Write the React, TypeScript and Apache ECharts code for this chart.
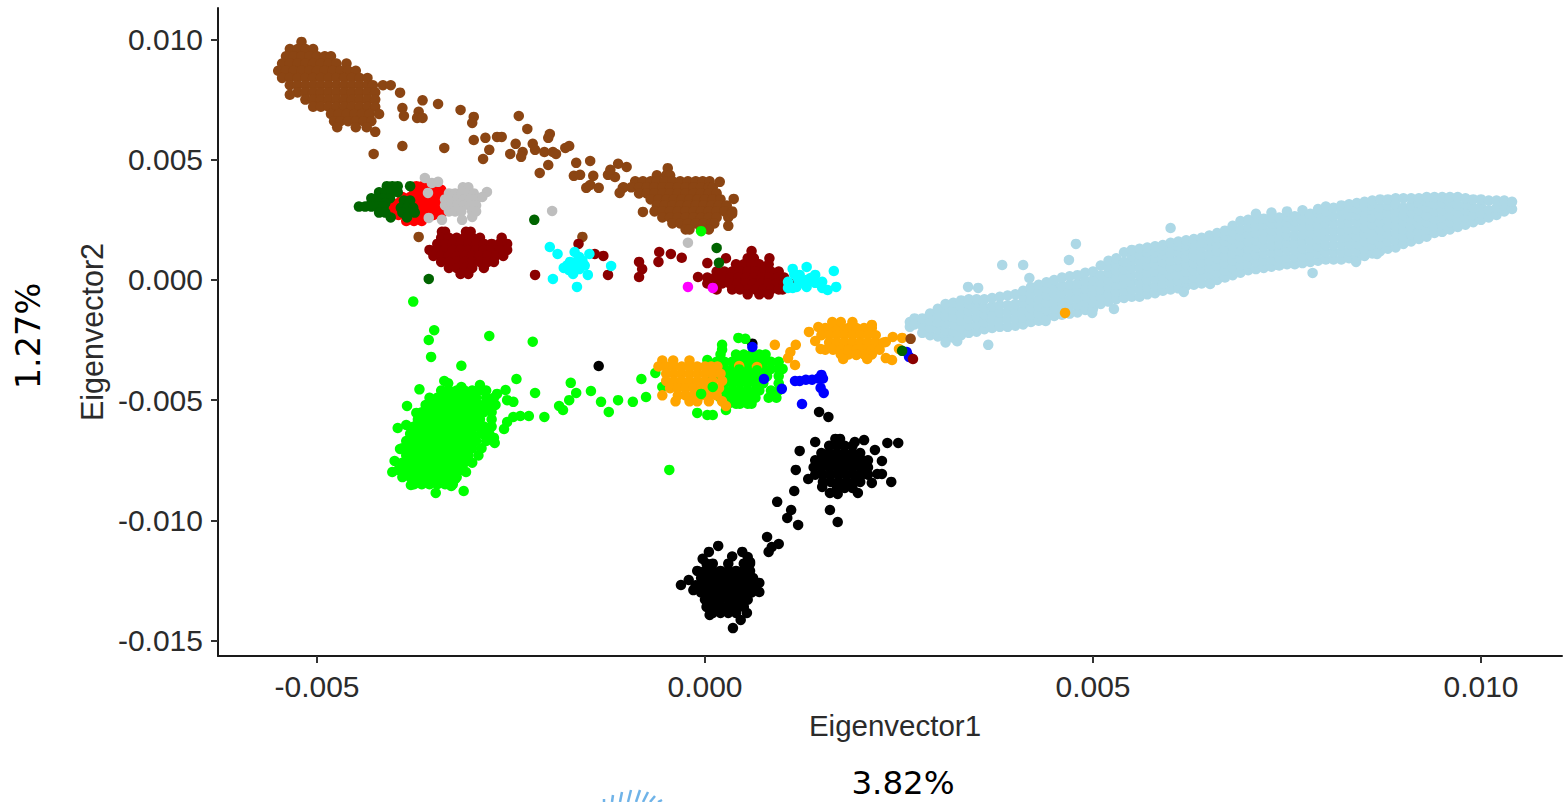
import React, { useEffect, useRef } from "react";
import * as echarts from "echarts";

// All values are in thousandths of an eigenvector unit.
// "rows" lists are [y, x, x, x...]; "cols" lists are [x, y, y, y...]; "loose" lists are [x, y].
const xTicks = [-0.005, 0, 0.005, 0.01];
const yTicks = [-0.015, -0.01, -0.005, 0, 0.005, 0.01];

const lightBlueCols = [
  [2.64,-1.75,-1.95],[2.7,-1.6,-1.85],
  [2.8,-2.2,-1.9,-1.6],[2.9,-2.3,-2.0,-1.7,-1.4],[3.0,-2.35,-2.05,-1.75,-1.45,-1.2],
  [3.1,-2.4,-2.1,-1.8,-1.5,-1.2,-1.0],[3.2,-2.4,-2.15,-1.85,-1.55,-1.25,-0.95],[3.3,-2.3,-2.0,-1.7,-1.4,-1.1,-0.85],
  [3.4,-2.2,-1.9,-1.6,-1.3,-1.0,-0.8],[3.5,-2.15,-1.85,-1.55,-1.25,-0.95,-0.8],[3.6,-2.05,-1.75,-1.45,-1.15,-0.8],
  [3.7,-2.0,-1.7,-1.4,-1.1,-0.75],[3.8,-1.95,-1.65,-1.35,-1.05,-0.7],[3.9,-1.95,-1.65,-1.35,-1.05,-0.65],
  [4.0,-1.9,-1.6,-1.3,-1.0,-0.6],[4.1,-1.85,-1.55,-1.25,-0.95,-0.7,-0.45],[4.2,-1.75,-1.45,-1.15,-0.85,-0.55,-0.3],
  [4.3,-1.7,-1.4,-1.1,-0.8,-0.5,-0.2],[4.4,-1.55,-1.25,-0.95,-0.65,-0.35,-0.1],[4.5,-1.5,-1.2,-0.9,-0.6,-0.3,0.0],
  [4.6,-1.45,-1.15,-0.85,-0.55,-0.25,0.1],[4.7,-1.4,-1.1,-0.8,-0.5,-0.2,0.15],[4.8,-1.35,-1.05,-0.75,-0.45,-0.15,0.2],
  [4.9,-1.25,-0.95,-0.65,-0.35,-0.05,0.3],[5.0,-1.2,-0.9,-0.6,-0.3,0.0,0.35],[5.1,-1.0,-0.7,-0.4,-0.1,0.2,0.6],
  [5.2,-0.9,-0.6,-0.3,0.0,0.3,0.55,0.8],[5.3,-0.8,-0.5,-0.2,0.1,0.4,0.65,0.9],[5.4,-0.75,-0.45,-0.15,0.15,0.45,0.75,1.15],
  [5.5,-0.7,-0.4,-0.1,0.2,0.5,0.8,1.0,1.25],[5.6,-0.7,-0.4,-0.1,0.2,0.5,0.8,1.05,1.3],[5.7,-0.6,-0.3,0.0,0.3,0.6,0.9,1.15,1.35],
  [5.8,-0.55,-0.25,0.05,0.35,0.65,0.95,1.15,1.4],[5.9,-0.45,-0.15,0.15,0.45,0.75,1.05,1.25,1.45],[6.0,-0.4,-0.1,0.2,0.5,0.8,1.1,1.35,1.55,2.16],
  [6.1,-0.35,-0.05,0.25,0.55,0.85,1.15,1.4,1.6],[6.2,-0.25,0.05,0.35,0.65,0.95,1.25,1.45,1.65],[6.3,-0.2,0.1,0.4,0.7,1.0,1.3,1.5,1.7],
  [6.4,-0.15,0.15,0.45,0.75,1.05,1.35,1.55,1.75],[6.5,-0.1,0.2,0.5,0.8,1.1,1.4,1.65,1.85],[6.6,0.0,0.3,0.6,0.9,1.2,1.5,1.75,1.95],
  [6.7,0.1,0.4,0.7,1.0,1.3,1.6,1.85,2.05],[6.8,0.2,0.5,0.8,1.1,1.4,1.7,2.0,2.25],[6.9,0.3,0.6,0.9,1.2,1.5,1.8,2.1,2.45],
  [7.0,0.4,0.7,1.0,1.3,1.6,1.9,2.2,2.5],[7.1,0.45,0.75,1.05,1.35,1.65,1.95,2.25,2.55,2.75],[7.2,0.5,0.8,1.1,1.4,1.7,2.0,2.3,2.55],
  [7.3,0.55,0.85,1.15,1.45,1.75,2.05,2.35,2.6,2.8],[7.4,0.6,0.9,1.2,1.5,1.8,2.1,2.35,2.6],[7.5,0.65,0.95,1.25,1.55,1.85,2.15,2.4,2.65,2.85],
  [7.6,0.65,0.95,1.25,1.55,1.85,2.15,2.45,2.65],[7.7,0.7,1.0,1.3,1.6,1.9,2.2,2.5,2.7,2.9],[7.8,0.75,1.05,1.35,1.65,1.95,2.25,2.5,2.75],
  [7.9,0.8,1.1,1.4,1.7,2.0,2.3,2.55,2.8,2.95],[8.0,0.85,1.15,1.45,1.75,2.05,2.35,2.6,2.85,3.05],[8.1,0.85,1.15,1.45,1.75,2.05,2.35,2.65,3.0],
  [8.2,0.85,1.15,1.45,1.75,2.05,2.35,2.65,2.9,3.1],[8.3,0.9,1.2,1.5,1.8,2.1,2.4,2.7,3.0,3.15],[8.4,0.9,1.2,1.5,1.8,2.1,2.4,2.7,2.95,3.2],
  [8.5,1.0,1.3,1.6,1.9,2.2,2.5,2.8,3.05,3.25],[8.6,1.1,1.4,1.7,2.0,2.3,2.6,2.9,3.1,3.3],[8.7,1.2,1.5,1.8,2.1,2.4,2.7,3.0,3.35],
  [8.8,1.3,1.6,1.9,2.2,2.5,2.8,3.1,3.35],[8.9,1.35,1.65,1.95,2.25,2.55,2.85,3.15,3.4],[9.0,1.5,1.8,2.1,2.4,2.7,3.0,3.4],
  [9.1,1.6,1.9,2.2,2.5,2.8,3.1,3.4],[9.2,1.7,2.0,2.3,2.6,2.9,3.2,3.4],[9.3,1.8,2.1,2.4,2.7,3.0,3.25,3.45],
  [9.4,1.95,2.25,2.55,2.85,3.15,3.45],[9.5,2.0,2.3,2.6,2.9,3.2,3.45],[9.6,2.1,2.4,2.7,3.0,3.25,3.45],
  [9.7,2.2,2.5,2.8,3.1,3.45],[9.8,2.3,2.6,2.9,3.15,3.4],[9.9,2.4,2.7,3.0,3.35],
  [10.0,2.5,2.75,3.05,3.35],[10.1,2.6,2.9,3.3],[10.2,2.7,3.0,3.3],[10.3,2.85,3.1,3.3],[10.4,2.95,3.25],
];
const lightBlueLoose = [[4.78,1.5],[4.69,0.83],[3.83,0.62],[4.1,0.62],[4.18,0.08],[3.39,-0.29],[3.52,-0.33],[3.65,-2.7],[4.99,-1.37],[5.27,-1.21],[4.39,-1.71],[7.83,0.29],[8.39,0.75],[8.66,1.08],[6.51,-0.17],[6.17,-0.5],[3.1,-2.6],[3.25,-2.55]];

const blackUpperRows = [
  [-6.9,1.6,1.7,1.8,1.9],[-7.2,1.5,1.6,1.7,1.8,1.9,2.0],[-7.5,1.42,1.52,1.62,1.72,1.82,1.92,2.02,2.1],
  [-7.8,1.4,1.5,1.6,1.7,1.8,1.9,2.0,2.1],[-8.1,1.42,1.52,1.62,1.72,1.82,1.92,2.02,2.1],[-8.4,1.52,1.62,1.72,1.82,1.92,2.0],[-8.65,1.7,1.8,1.9],
];
const blackLowerRows = [
  [-11.8,0.02,0.1,0.3,0.5,0.58],[-12.1,0.0,0.1,0.2,0.3,0.4,0.5,0.58],[-12.4,-0.05,0.05,0.15,0.25,0.35,0.45,0.55,0.62],
  [-12.7,-0.12,-0.02,0.08,0.18,0.28,0.38,0.48,0.58,0.66],[-13.0,-0.05,0.05,0.15,0.25,0.35,0.45,0.55,0.6],
  [-13.3,0.0,0.1,0.2,0.3,0.4,0.5,0.55],[-13.6,0.02,0.12,0.22,0.32,0.42,0.5],[-13.85,0.1,0.2,0.3,0.4],
];
const blackLoose = [[1.47,-5.49],[1.59,-5.7],[1.42,-6.74],[1.22,-7.11],[1.17,-7.9],[1.33,-8.28],[1.15,-8.78],[0.93,-9.23],[1.11,-9.57],[1.06,-9.9],[1.2,-10.19],[1.61,-9.57],[1.71,-10.07],[0.8,-10.69],[0.95,-10.98],[0.86,-11.11],[0.82,-11.31],[2.49,-6.78],[2.35,-6.78],[2.4,-8.4],[2.28,-8.07],[2.22,-8.07],[2.28,-7.53],[2.19,-7.07],[2.05,-6.66],[1.93,-6.74],[1.74,-6.61],[1.68,-6.61],[1.97,-8.86],[1.71,-8.9],[1.61,-8.86],[1.51,-8.61],[2.15,-8.44],[0.17,-11.06],[0.05,-11.31],[-0.03,-11.6],[0.48,-11.31],[0.55,-11.52],[0.58,-11.73],[0.35,-11.5],[-0.31,-12.69],[-0.21,-12.48],[-0.15,-12.9],[-0.1,-12.1],[0.7,-12.6],[0.7,-12.98],[0.36,-14.48],[0.46,-14.14],[0.54,-13.85],[0.06,-13.93],[-1.37,-3.58],[0.61,-2.65]];

const greenMainRows = [
  [-4.6,-3.4,-3.3,-3.2,-3.1,-3.0,-2.9,-2.82],
  [-4.9,-3.55,-3.45,-3.35,-3.25,-3.15,-3.05,-2.95,-2.82,-2.72],
  [-5.2,-3.6,-3.5,-3.4,-3.3,-3.2,-3.1,-3.0,-2.9,-2.8,-2.7],
  [-5.5,-3.65,-3.55,-3.45,-3.35,-3.25,-3.15,-3.05,-2.95,-2.85,-2.75],
  [-5.8,-3.7,-3.6,-3.5,-3.4,-3.3,-3.2,-3.1,-3.0,-2.9,-2.75],
  [-6.1,-3.75,-3.65,-3.55,-3.45,-3.35,-3.25,-3.15,-3.05,-2.95,-2.85,-2.75],
  [-6.4,-3.8,-3.7,-3.6,-3.5,-3.4,-3.3,-3.2,-3.1,-3.0,-2.88,-2.78],
  [-6.7,-3.85,-3.75,-3.65,-3.55,-3.45,-3.35,-3.25,-3.15,-3.05,-2.95,-2.82],
  [-7.0,-3.9,-3.8,-3.7,-3.6,-3.5,-3.4,-3.3,-3.2,-3.1,-3.0,-2.88],
  [-7.3,-3.85,-3.75,-3.65,-3.55,-3.45,-3.35,-3.25,-3.15,-3.05,-2.92],
  [-7.6,-3.9,-3.8,-3.7,-3.6,-3.5,-3.4,-3.3,-3.2,-3.1,-3.0],
  [-7.9,-3.95,-3.85,-3.75,-3.65,-3.55,-3.45,-3.35,-3.25,-3.15],
  [-8.2,-3.9,-3.8,-3.7,-3.6,-3.5,-3.4,-3.3,-3.2],
  [-8.5,-3.75,-3.65,-3.55,-3.45,-3.35,-3.25],
];
const greenMidRows = [
  [-2.9,0.22],[-3.1,0.2,0.4,0.5,0.6,0.7,0.78],[-3.4,0.15,0.25,0.35,0.45,0.55,0.65,0.75,0.85,0.95],
  [-3.7,0.05,0.15,0.25,0.35,0.45,0.55,0.65,0.75,0.85,0.95,1.0],[-4.0,0.1,0.2,0.3,0.4,0.5,0.6,0.7,0.8,0.95],
  [-4.3,0.25,0.35,0.45,0.55,0.65,0.75,0.95],[-4.6,0.25,0.35,0.45,0.55,0.65,0.7,0.85,0.95],
  [-4.9,0.2,0.3,0.4,0.5,0.6,0.65,0.82,0.92],[-5.15,0.3,0.4,0.45,0.55,0.6],
];
const greenLoose = [[-3.76,-0.9],[-3.49,-2.09],[-3.56,-2.5],[-3.53,-3.2],[-2.78,-2.33],[-2.22,-2.57],[-3.14,-3.57],[-3.36,-4.2],[-3.31,-4.3],[-2.43,-4.12],[-2.9,-4.37],[-3.68,-4.55],[-3.14,-4.45],[-2.57,-4.58],[-2.68,-4.74],[-2.19,-4.7],[-2.47,-5.07],[-2.55,-5.0],[-3.84,-5.24],[-3.72,-5.53],[-2.27,-5.66],[-2.38,-5.66],[-2.47,-5.7],[-2.55,-5.91],[-2.59,-6.2],[-2.07,-5.7],[-3.96,-6.16],[-3.85,-6.03],[-2.72,-6.57],[-2.71,-6.78],[-4.0,-7.53],[-4.03,-7.99],[-3.93,-7.03],[-3.08,-7.99],[-3.11,-8.78],[-3.47,-8.86],[-3.27,-8.57],[-3.22,-8.28],[-3.14,-7.61],[-3.79,-8.53],[-1.73,-4.28],[-1.66,-4.7],[-1.47,-4.62],[-1.75,-5.0],[-1.88,-5.24],[-1.83,-5.41],[-1.34,-5.07],[-1.24,-5.49],[-1.12,-5.0],[-0.93,-5.07],[-0.76,-4.87],[-0.82,-4.12],[-0.64,-3.87],[-0.46,-7.9],[-0.1,-5.53],[0.03,-5.62],[0.1,-5.62],[0.27,-5.41],[0.03,-3.33],[-0.55,-4.45],[0.43,-2.41],[0.52,-2.45],[0.22,-2.7]];
const greenOver = [[-0.05,-4.74],[0.1,-4.45],[-0.05,2.03],[0.44,-3.72],[0.67,-3.76]];

const orangeRows = [
  [-3.35,-0.55,-0.41,-0.2],[-3.6,-0.6,-0.5,-0.4,-0.3,-0.2,-0.1,0.0,0.08,0.16],[-3.9,-0.5,-0.4,-0.3,-0.2,-0.1,0.0,0.1,0.2],
  [-4.2,-0.5,-0.4,-0.3,-0.2,-0.1,0.0,0.1,0.22],[-4.5,-0.45,-0.35,-0.25,-0.15,-0.05,0.05,0.18],[-4.8,-0.55,-0.35,-0.25,-0.15,-0.05,0.05,0.15],
  [-5.05,-0.38,-0.2,-0.1,0.05,0.22],
  [-2.0,1.55,1.65,1.75,1.85,1.95,2.05,2.15],[-2.3,1.5,1.6,1.7,1.8,1.9,2.0,2.1,2.2],[-2.6,1.6,1.7,1.8,1.9,2.0,2.1,2.2,2.3],
  [-2.9,1.55,1.65,1.75,1.85,1.95,2.05,2.15,2.25],[-3.1,1.75,1.85,1.95,2.05,2.15],
];
const orangeLoose = [[0.27,-5.24],[0.44,-3.58],[0.67,-3.62],[0.9,-2.7],[1.17,-2.7],[1.1,-3.0],[1.07,-3.25],[1.16,-3.54],[1.34,-2.16],[1.46,-1.96],[1.42,-2.54],[1.49,-2.87],[1.64,-1.75],[1.75,-1.75],[1.9,-1.75],[2.15,-1.87],[2.33,-2.58],[2.42,-2.37],[2.54,-2.41],[2.41,-3.33],[2.33,-3.25],[2.5,-2.87],[1.78,-3.29],[1.95,-3.12],[2.09,-3.29],[4.64,-1.37]];

const blueLoose = [[0.61,-2.79],[0.76,-4.12],[0.99,-4.53],[1.25,-5.16],[1.16,-4.2],[1.22,-4.2],[1.3,-4.15],[1.38,-4.15],[1.46,-4.1],[1.52,-4.1],[1.5,-3.95],[1.49,-4.49],[1.53,-4.7],[2.6,-3.0],[2.63,-3.2]];

const brownTopRows = [
  [9.9,-5.2],[9.6,-5.35,-5.25,-5.15,-5.05],[9.3,-5.4,-5.3,-5.2,-5.1,-5.0,-4.9,-4.82],
  [9.0,-5.45,-5.35,-5.25,-5.15,-5.05,-4.95,-4.85,-4.75,-4.62],
  [8.7,-5.5,-5.4,-5.3,-5.2,-5.1,-5.0,-4.9,-4.8,-4.7,-4.6,-4.5],
  [8.4,-5.45,-5.35,-5.25,-5.15,-5.05,-4.95,-4.85,-4.75,-4.65,-4.55,-4.45,-4.35],
  [8.1,-5.35,-5.25,-5.15,-5.05,-4.95,-4.85,-4.75,-4.65,-4.55,-4.45,-4.35,-4.28,-4.15,-4.05],
  [7.8,-5.25,-5.15,-5.05,-4.95,-4.85,-4.75,-4.65,-4.55,-4.45,-4.35,-4.25],
  [7.7,-5.35],[7.5,-5.15,-5.05,-4.95,-4.85,-4.75,-4.65,-4.55,-4.45,-4.35,-4.25],
  [7.2,-5.05,-4.95,-4.85,-4.75,-4.65,-4.55,-4.45,-4.35,-4.25],[6.9,-4.82,-4.72,-4.62,-4.52,-4.42,-4.32,-4.2],
  [6.6,-4.78,-4.7,-4.6,-4.5,-4.4,-4.3],[6.35,-4.74,-4.5,-4.36],[6.16,-4.25],
];
const brownMidRows = [
  [4.65,-0.48],[4.35,-0.62,-0.5,-0.45],
  [4.1,-0.9,-0.8,-0.7,-0.62,-0.52,-0.42,-0.32,-0.22,-0.12,-0.03,0.06],
  [3.85,-1.05,-0.95,-0.85,-0.75,-0.65,-0.55,-0.45,-0.35,-0.25,-0.15,-0.05,0.05,0.1],
  [3.6,-0.85,-0.75,-0.65,-0.55,-0.45,-0.35,-0.25,-0.15,-0.05,0.05,0.15],
  [3.35,-0.7,-0.6,-0.5,-0.4,-0.3,-0.2,-0.1,0.0,0.1,0.2],
  [3.1,-0.62,-0.52,-0.42,-0.32,-0.22,-0.12,-0.02,0.08,0.18,0.28],
  [2.85,-0.65,-0.55,-0.45,-0.35,-0.25,-0.15,-0.05,0.05,0.15,0.25,0.35],
  [2.6,-0.55,-0.45,-0.35,-0.25,-0.15,-0.05,0.05,0.15,0.3],
  [2.35,-0.42,-0.32,-0.22,-0.12,-0.02,0.08,0.12],[2.1,-0.25,-0.2,-0.05,0.05],
];
const brownLoose = [[-3.93,7.79],[-3.64,7.47],[-3.44,7.32],[-3.9,7.15],[-3.88,6.82],[-3.69,6.99],[-3.71,6.74],[-3.64,6.74],[-3.15,7.07],[-2.98,6.78],[-3.0,6.53],[-2.4,6.82],[-2.29,6.28],[-2.0,6.07],[-2.02,5.91],[-2.98,5.82],[-2.83,5.91],[-2.68,5.95],[-2.62,5.95],[-2.44,5.66],[-2.22,5.66],[-2.19,5.41],[-2.78,5.41],[-2.51,5.24],[-2.35,5.32],[-2.37,5.12],[-2.86,5.03],[-2.07,5.32],[-1.96,5.32],[-1.92,5.24],[-1.8,5.49],[-1.75,5.57],[-2.02,4.78],[-2.13,4.45],[-1.66,4.87],[-1.48,4.95],[-1.69,4.33],[-1.61,4.37],[-1.44,4.33],[-1.53,3.83],[-1.48,3.95],[-1.37,3.83],[-1.25,4.37],[-1.16,4.28],[-1.22,4.58],[-1.12,4.83],[-1.01,4.7],[-3.36,5.49],[-3.9,5.57],[-4.27,5.24],[-3.69,1.79],[-1.58,1.79],[0.19,4.08],[0.37,3.37],[0.3,2.25],[0.35,2.75],[-1.06,3.83],[-1.1,3.62],[-0.8,2.83],[2.65,-2.45]];

const darkRedRows = [
  [2.0,-3.39,-3.35,-3.08,-3.02],[1.75,-3.4,-3.3,-3.2,-3.1,-3.0,-2.9,-2.62],
  [1.5,-3.45,-3.35,-3.25,-3.15,-3.05,-2.95,-2.85,-2.75,-2.65,-2.55],
  [1.25,-3.55,-3.45,-3.35,-3.25,-3.15,-3.05,-2.95,-2.85,-2.75,-2.65,-2.55],
  [1.0,-3.5,-3.4,-3.3,-3.2,-3.1,-3.0,-2.9,-2.8,-2.7,-2.6],
  [0.75,-3.4,-3.3,-3.2,-3.1,-3.0,-2.9,-2.8,-2.72],[0.5,-3.3,-3.2,-3.1,-3.0,-2.85],[0.25,-3.15,-3.05],
  [1.2,0.6],[0.9,0.27,0.55,0.63,0.83],[0.65,0.4,0.5,0.6,0.7,0.82],
  [0.35,0.15,0.25,0.35,0.45,0.55,0.65,0.75,0.85,0.95],[0.1,0.03,0.13,0.23,0.33,0.43,0.53,0.63,0.73,0.83,0.93,1.02],
  [-0.15,0.03,0.12,0.22,0.32,0.42,0.52,0.62,0.72,0.82,0.92,1.02,1.1],[-0.4,0.15,0.35,0.45,0.55,0.65,0.75,0.85,0.95,1.0],
  [-0.6,0.55,0.7,0.82],
];
const darkRedLoose = [[0.03,0.7],[-0.09,0.12],[-0.85,0.75],[-0.81,0.45],[-0.85,0.12],[-0.6,0.75],[-0.59,1.16],[-0.44,1.08],[-0.3,0.92],[-2.19,0.21],[-1.25,0.21],[-1.63,1.5],[-1.42,1.08],[-1.31,1.0],[2.68,-3.29]];

const redRows = [
  [3.9,-3.72,-3.64],[3.75,-3.75,-3.65,-3.57,-3.45,-3.4],[3.45,-3.9,-3.8,-3.7,-3.6,-3.5,-3.42,-3.35],
  [3.2,-4.05,-3.95,-3.85,-3.75,-3.65,-3.55,-3.45,-3.35,-3.28],[2.95,-4.05,-3.95,-3.85,-3.75,-3.65,-3.55,-3.45,-3.35,-3.3],
  [2.7,-3.95,-3.8,-3.7,-3.6,-3.5,-3.4],[2.45,-3.85,-3.75,-3.65],
];
const darkGreenRows = [
  [3.9,-4.1,-4.03,-3.96,-3.8],[3.65,-4.2,-4.12,-4.04,-3.96],[3.4,-4.3,-4.22,-4.14,-4.06],
  [3.2,-4.3,-4.2,-4.12],[3.05,-4.46,-4.38,-4.3,-4.22,-4.14],[3.3,-3.88,-3.8],[3.0,-3.92,-3.84,-3.76],
  [2.8,-4.2,-4.12,-3.9,-3.82,-3.74],[2.6,-4.05,-3.84],
];
const darkGreenLoose = [[-2.2,2.5],[0.15,1.33],[0.18,0.71],[-3.56,0.04],[2.54,-2.95]];

const grayRows = [
  [3.85,-3.12,-3.05],[3.6,-3.3,-3.22,-3.14,-3.06,-2.98],[3.35,-3.35,-3.27,-3.19,-3.11,-3.03,-2.95],
  [3.1,-3.35,-3.27,-3.19,-3.11,-3.03,-2.95],[2.85,-3.3,-3.22,-3.14,-3.0,-2.95],
];
const grayLoose = [[-3.61,4.24],[-3.52,4.03],[-3.44,4.08],[-3.57,3.62],[-2.81,3.66],[-2.87,3.45],[-3.56,2.58],[-3.39,2.5],[-3.13,2.5],[-3.0,2.62],[-1.97,2.87],[-0.22,1.55]];

const cyanLoose = [[-2.0,1.37],[-1.9,1.08],[-1.68,1.16],[-1.49,1.08],[-1.21,0.58],[-1.51,0.21],[-1.96,0.04],[-1.65,-0.29],[-1.82,0.5],[-1.74,0.75],[-1.66,0.75],[-1.58,0.8],[-1.75,0.4],[-1.68,0.4],[-1.62,0.45],[-1.7,0.25],[-1.55,0.6],[-1.78,0.6],[-1.62,0.95],[1.66,0.37],[1.31,0.54],[1.13,0.46],[1.69,-0.29],[1.58,-0.42],[1.51,-0.33],[1.51,-0.08],[1.42,0.21],[1.42,-0.12],[1.31,0.0],[1.31,-0.29],[1.22,0.21],[1.22,-0.12],[1.18,-0.29],[1.07,-0.33],[1.07,-0.08],[1.13,-0.33],[1.36,0.08],[1.2,0.04],[1.15,0.25]];
const magentaLoose = [[-0.22,-0.29],[0.1,-0.33]];

const rayLines = [[604,799,604,802],[613,795,612,802],[622,792,620,802],[631,790,628,802],[640,790,636,802],[648,792,643,802],[655,796,650,802],[662,800,658,802]];

const fromRows = (rows: number[][]) => rows.flatMap(([y, ...xs]) => xs.map((x) => [x, y]));
const fromCols = (cols: number[][]) => cols.flatMap(([x, ...ys]) => ys.map((y) => [x, y]));
const scaled = (pts: number[][]) => pts.map(([x, y]) => [x / 1000, y / 1000]);

const layers: [string, number[][]][] = [
  ["#ADD8E6", [...fromCols(lightBlueCols), ...lightBlueLoose]],
  ["#000000", [...fromRows(blackUpperRows), ...fromRows(blackLowerRows), ...blackLoose]],
  ["#00FF00", [...fromRows(greenMainRows), ...fromRows(greenMidRows), ...greenLoose]],
  ["#FFA500", [...fromRows(orangeRows), ...orangeLoose]],
  ["#0000FF", blueLoose],
  ["#8B4513", [...fromRows(brownTopRows), ...fromRows(brownMidRows), ...brownLoose]],
  ["#8B0000", [...fromRows(darkRedRows), ...darkRedLoose]],
  ["#FF0000", fromRows(redRows)],
  ["#006400", [...fromRows(darkGreenRows), ...darkGreenLoose]],
  ["#BEBEBE", [...fromRows(grayRows), ...grayLoose]],
  ["#00FFFF", cyanLoose],
  ["#FF00FF", magentaLoose],
  ["#00FF00", greenOver],
];

export default function App() {
  const ref = useRef<HTMLDivElement>(null);
  useEffect(() => {
    const chart = echarts.init(ref.current!, undefined, { renderer: "svg" });
    const tickText = { fontFamily: "Liberation Sans", fontSize: 30, color: "#2b2b2b" };
    const axisLine = { show: true, onZero: false, lineStyle: { color: "#1a1a1a", width: 2 } };
    const axisTick = { show: true, length: 7, lineStyle: { color: "#333333", width: 2 } };
    chart.setOption({
      animation: false,
      backgroundColor: "#ffffff",
      grid: { left: 218, right: 1, top: 8, bottom: 146, containLabel: false },
      xAxis: {
        type: "value",
        min: -0.006276,
        max: 0.011044,
        splitLine: { show: false },
        axisLine,
        axisTick: { ...axisTick, customValues: xTicks },
        axisLabel: { ...tickText, margin: 15, customValues: xTicks, formatter: (v: number) => v.toFixed(3) },
        name: "Eigenvector1",
        nameLocation: "middle",
        nameGap: 54,
        nameTextStyle: { fontFamily: "Liberation Sans", fontSize: 29.5, color: "#2b2b2b", padding: [0, 0, 0, 10] },
      },
      yAxis: {
        type: "value",
        min: -0.01564,
        max: 0.01131,
        splitLine: { show: false },
        axisLine,
        axisTick: { ...axisTick, customValues: yTicks },
        axisLabel: { ...tickText, margin: 15, customValues: yTicks, formatter: (v: number) => v.toFixed(3) },
        name: "Eigenvector2",
        nameLocation: "middle",
        nameGap: 108,
        nameTextStyle: { fontFamily: "Liberation Sans", fontSize: 30.5, color: "#2b2b2b" },
      },
      series: layers.map(([color, pts]) => ({
        type: "scatter",
        data: scaled(pts),
        symbol: "circle",
        symbolSize: 10.5,
        silent: true,
        clip: false,
        itemStyle: { color, opacity: 1 },
      })),
      graphic: [
        {
          type: "text",
          x: 28,
          y: 336,
          rotation: Math.PI / 2,
          style: { text: "1.27%", fontFamily: "DejaVu Sans", fontSize: 33.5, fill: "#000000", align: "center", verticalAlign: "middle" },
        },
        {
          type: "text",
          x: 903,
          y: 783,
          style: { text: "3.82%", fontFamily: "DejaVu Sans", fontSize: 32.5, fill: "#000000", align: "center", verticalAlign: "middle" },
        },
        ...rayLines.map(([x1, y1, x2, y2]) => ({
          type: "line",
          shape: { x1, y1, x2, y2 },
          style: { stroke: "#6FB3E8", lineWidth: 2.5 },
        })),
      ],
    });
    return () => chart.dispose();
  }, []);
  return <div ref={ref} style={{ position: "fixed", left: 0, top: 0, width: 1563, height: 802 }} />;
}
